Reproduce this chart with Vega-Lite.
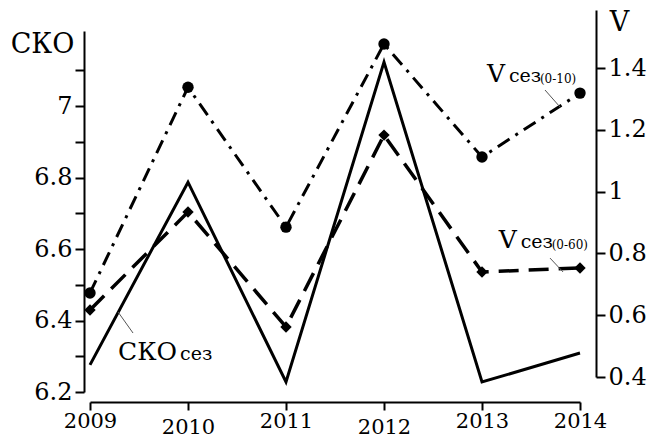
{
  "$schema": "https://vega.github.io/schema/vega-lite/v6.json",
  "width": 512,
  "height": 392,
  "autosize": {"type": "none"},
  "padding": {"left": 84, "top": 10, "right": 54, "bottom": 43},
  "background": "white",
  "config": {
    "view": {"stroke": null},
    "font": "DejaVu Serif",
    "text": {"font": "DejaVu Serif"},
    "axis": {
      "grid": false,
      "domainColor": "black",
      "domainWidth": 2,
      "tickColor": "black",
      "tickWidth": 2,
      "labelColor": "black",
      "titleColor": "black",
      "labelFont": "DejaVu Serif",
      "titleFont": "DejaVu Serif",
      "labelFontWeight": "normal",
      "titleFontWeight": "normal"
    }
  },
  "datasets": {
    "sko": [
      {"year": 2009, "value": 6.276},
      {"year": 2010, "value": 6.787},
      {"year": 2011, "value": 6.228},
      {"year": 2012, "value": 7.123},
      {"year": 2013, "value": 6.228},
      {"year": 2014, "value": 6.309}
    ],
    "v10": [
      {"year": 2009, "v": 0.672},
      {"year": 2010, "v": 1.338},
      {"year": 2011, "v": 0.885},
      {"year": 2012, "v": 1.478},
      {"year": 2013, "v": 1.112},
      {"year": 2014, "v": 1.319}
    ],
    "v60": [
      {"year": 2009, "v": 0.617},
      {"year": 2010, "v": 0.934},
      {"year": 2011, "v": 0.562},
      {"year": 2012, "v": 1.183},
      {"year": 2013, "v": 0.74},
      {"year": 2014, "v": 0.753}
    ],
    "annLeft": [
      {"x": 2009.286, "value": 6.29, "x1": 2009.439, "y1": 6.365, "x2": 2009.286, "y2": 6.424}
    ],
    "annRight": [
      {"x": 2013.05, "v": 1.355, "sub": "(0-10)", "x1": 2013.643, "y1": 1.329, "x2": 2013.796, "y2": 1.274},
      {"x": 2013.17, "v": 0.817, "sub": "(0-60)", "x1": 2013.694, "y1": 0.785, "x2": 2013.827, "y2": 0.74}
    ]
  },
  "layer": [
    {
      "layer": [
        {
          "data": {"name": "sko"},
          "mark": {"type": "line", "color": "black", "strokeWidth": 3},
          "encoding": {
            "x": {
              "field": "year", "type": "quantitative",
              "scale": {"domain": [2009, 2014], "range": [6, 496], "nice": false, "zero": false},
              "axis": {
                "values": [2009, 2010, 2011, 2012, 2013, 2014],
                "format": "d",
                "title": null,
                "labelFlush": false,
                "labelFontSize": 21,
                "tickSize": 8,
                "labelPadding": {"condition": {"test": "datum.value == 2010 || datum.value == 2012", "value": 6}, "value": 0}
              }
            },
            "y": {
              "field": "value", "type": "quantitative",
              "scale": {"domain": [6.2, 7.21], "range": [382, 21], "nice": false, "zero": false},
              "axis": {
                "orient": "left",
                "values": [6.2, 6.3, 6.4, 6.5, 6.6, 6.7, 6.8, 6.9, 7.0, 7.1],
                "labelExpr": "round(datum.value*10) % 2 == 0 ? '' + round(datum.value*10)/10 : ''",
                "labelFontSize": 24,
                "tickSize": 9,
                "labelPadding": 3,
                "labelFlush": false,
                "title": "СКО",
                "titleAngle": 0,
                "titleFontSize": 27,
                "titleAlign": "center",
                "titleBaseline": "alphabetic",
                "titleX": -42,
                "titleY": 42
              }
            }
          }
        },
        {
          "data": {"name": "annLeft"},
          "mark": {"type": "text", "align": "left", "baseline": "alphabetic", "fontSize": 25, "color": "black"},
          "encoding": {
            "x": {"field": "x", "type": "quantitative"},
            "y": {"field": "value", "type": "quantitative"},
            "text": {"value": "СКО"}
          }
        },
        {
          "data": {"name": "annLeft"},
          "mark": {"type": "text", "align": "left", "baseline": "alphabetic", "fontSize": 19, "color": "black", "dx": 62},
          "encoding": {
            "x": {"field": "x", "type": "quantitative"},
            "y": {"field": "value", "type": "quantitative"},
            "text": {"value": "сез"}
          }
        },
        {
          "data": {"name": "annLeft"},
          "mark": {"type": "rule", "color": "#555", "strokeWidth": 1},
          "encoding": {
            "x": {"field": "x1", "type": "quantitative"},
            "x2": {"field": "x2"},
            "y": {"field": "y1", "type": "quantitative"},
            "y2": {"field": "y2"}
          }
        }
      ]
    },
    {
      "layer": [
        {
          "data": {"name": "v10"},
          "mark": {"type": "line", "color": "black", "strokeWidth": 3, "strokeDash": [14, 7, 3, 7]},
          "encoding": {
            "x": {"field": "year", "type": "quantitative"},
            "y": {
              "field": "v", "type": "quantitative",
              "scale": {"domain": [0.4, 1.588], "range": [367, 0], "nice": false, "zero": false},
              "axis": {
                "orient": "right",
                "values": [0.4, 0.5, 0.6, 0.7, 0.8, 0.9, 1.0, 1.1, 1.2, 1.3, 1.4, 1.5],
                "labelExpr": "round(datum.value*10) % 2 == 0 ? '' + round(datum.value*10)/10 : ''",
                "labelFontSize": 24,
                "tickSize": 9,
                "labelPadding": 3,
                "labelFlush": false,
                "title": "V",
                "titleAngle": 0,
                "titleFontSize": 27,
                "titleAlign": "center",
                "titleBaseline": "alphabetic",
                "titleX": 23,
                "titleY": 20
              }
            }
          }
        },
        {
          "data": {"name": "v10"},
          "mark": {"type": "point", "shape": "circle", "filled": true, "color": "black", "size": 130, "opacity": 1},
          "encoding": {
            "x": {"field": "year", "type": "quantitative"},
            "y": {"field": "v", "type": "quantitative"}
          }
        },
        {
          "data": {"name": "v60"},
          "mark": {"type": "line", "color": "black", "strokeWidth": 3.5, "strokeDash": [20, 10]},
          "encoding": {
            "x": {"field": "year", "type": "quantitative"},
            "y": {"field": "v", "type": "quantitative"}
          }
        },
        {
          "data": {"name": "v60"},
          "mark": {"type": "point", "shape": "diamond", "filled": true, "color": "black", "size": 130, "opacity": 1},
          "encoding": {
            "x": {"field": "year", "type": "quantitative"},
            "y": {"field": "v", "type": "quantitative"}
          }
        },
        {
          "data": {"name": "annRight"},
          "mark": {"type": "text", "align": "left", "baseline": "alphabetic", "fontSize": 25, "color": "black"},
          "encoding": {
            "x": {"field": "x", "type": "quantitative"},
            "y": {"field": "v", "type": "quantitative"},
            "text": {"value": "V"}
          }
        },
        {
          "data": {"name": "annRight"},
          "mark": {"type": "text", "align": "left", "baseline": "alphabetic", "fontSize": 19, "color": "black", "dx": 22},
          "encoding": {
            "x": {"field": "x", "type": "quantitative"},
            "y": {"field": "v", "type": "quantitative"},
            "text": {"value": "сез"}
          }
        },
        {
          "data": {"name": "annRight"},
          "mark": {"type": "text", "align": "left", "baseline": "alphabetic", "fontSize": 12, "color": "black", "dx": 53, "dy": 1},
          "encoding": {
            "x": {"field": "x", "type": "quantitative"},
            "y": {"field": "v", "type": "quantitative"},
            "text": {"field": "sub"}
          }
        },
        {
          "data": {"name": "annRight"},
          "mark": {"type": "rule", "color": "#555", "strokeWidth": 1},
          "encoding": {
            "x": {"field": "x1", "type": "quantitative"},
            "x2": {"field": "x2"},
            "y": {"field": "y1", "type": "quantitative"},
            "y2": {"field": "y2"}
          }
        }
      ]
    }
  ],
  "resolve": {"scale": {"y": "independent"}}
}
